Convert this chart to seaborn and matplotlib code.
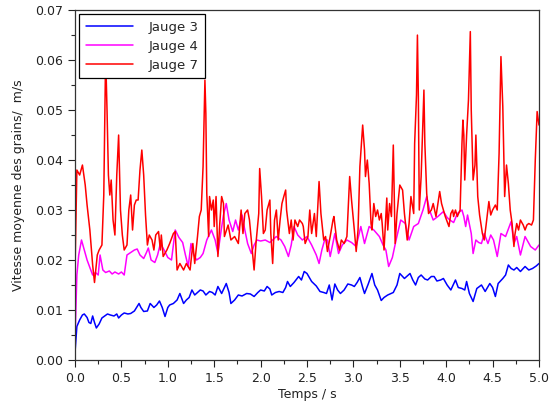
import numpy as np
import pandas as pd
import matplotlib
matplotlib.use("Agg")
import matplotlib.pyplot as plt
from matplotlib.ticker import MultipleLocator, FormatStrFormatter
import seaborn as sns

# --- data ---
t_j3 = [0.00, 0.01, 0.02, 0.05, 0.08, 0.10, 0.13, 0.15, 0.17, 0.19, 0.21, 0.23, 0.26, 0.29,
        0.32, 0.35, 0.38, 0.42, 0.45, 0.47, 0.50, 0.53, 0.57, 0.60, 0.64, 0.69, 0.71, 0.74,
        0.78, 0.81, 0.85, 0.88, 0.91, 0.94, 0.97, 1.00, 1.02, 1.06, 1.10, 1.13, 1.17, 1.20,
        1.23, 1.26, 1.29, 1.32, 1.35, 1.38, 1.41, 1.45, 1.48, 1.51, 1.54, 1.58, 1.61, 1.63,
        1.66, 1.68, 1.72, 1.76, 1.80, 1.85, 1.89, 1.93, 1.97, 2.00, 2.04, 2.07, 2.10, 2.12,
        2.16, 2.20, 2.24, 2.27, 2.29, 2.32, 2.36, 2.41, 2.44, 2.47, 2.50, 2.55, 2.60, 2.64,
        2.68, 2.71, 2.74, 2.77, 2.80, 2.83, 2.86, 2.90, 2.94, 2.98, 3.01, 3.04, 3.07, 3.10,
        3.12, 3.16, 3.20, 3.23, 3.26, 3.30, 3.33, 3.37, 3.43, 3.47, 3.50, 3.55, 3.58, 3.61,
        3.64, 3.67, 3.70, 3.73, 3.77, 3.80, 3.84, 3.87, 3.90, 3.94, 3.97, 4.01, 4.05, 4.10,
        4.13, 4.17, 4.20, 4.22, 4.25, 4.29, 4.33, 4.38, 4.42, 4.47, 4.50, 4.53, 4.56, 4.61,
        4.64, 4.67, 4.70, 4.73, 4.76, 4.80, 4.85, 4.89, 4.93, 4.97, 5.00]
v_j3 = [0.0015, 0.0040, 0.0067, 0.0080, 0.0090, 0.0092, 0.0085, 0.0075, 0.0073, 0.0088, 0.0075,
        0.0064, 0.0072, 0.0084, 0.0088, 0.0092, 0.0090, 0.0088, 0.0092, 0.0084, 0.0090, 0.0094,
        0.0092, 0.0093, 0.0098, 0.0113, 0.0105, 0.0097, 0.0098, 0.0113, 0.0105, 0.0110, 0.0118,
        0.0105, 0.0087, 0.0105, 0.0110, 0.0113, 0.0120, 0.0133, 0.0113, 0.0120, 0.0125, 0.0140,
        0.0130, 0.0135, 0.0140, 0.0138, 0.0130, 0.0137, 0.0135, 0.0130, 0.0147, 0.0133, 0.0145,
        0.0153, 0.0135, 0.0113, 0.0120, 0.0130, 0.0128, 0.0133, 0.0132, 0.0127, 0.0135, 0.0140,
        0.0138, 0.0147, 0.0142, 0.0130, 0.0135, 0.0137, 0.0135, 0.0145, 0.0157, 0.0147, 0.0155,
        0.0167, 0.0160, 0.0177, 0.0173, 0.0157, 0.0148, 0.0137, 0.0135, 0.0133, 0.0150, 0.0120,
        0.0152, 0.0140, 0.0133, 0.0140, 0.0152, 0.0150, 0.0147, 0.0155, 0.0165, 0.0145, 0.0133,
        0.0152, 0.0173, 0.0150, 0.0140, 0.0119, 0.0125, 0.0130, 0.0135, 0.0150, 0.0173, 0.0163,
        0.0168, 0.0173, 0.0160, 0.0150, 0.0165, 0.0170, 0.0162, 0.0160, 0.0167, 0.0167, 0.0158,
        0.0160, 0.0163, 0.0150, 0.0140, 0.0160, 0.0145, 0.0143, 0.0140, 0.0157, 0.0133, 0.0117,
        0.0143, 0.0150, 0.0137, 0.0153, 0.0145, 0.0127, 0.0153, 0.0163, 0.0170, 0.0190, 0.0183,
        0.0180, 0.0185, 0.0177, 0.0187, 0.0180, 0.0183, 0.0188, 0.0193]

t_j4 = [0.00, 0.02, 0.04, 0.07, 0.10, 0.13, 0.16, 0.19, 0.22, 0.25, 0.27, 0.30, 0.33, 0.37,
        0.40, 0.43, 0.47, 0.50, 0.53, 0.56, 0.60, 0.64, 0.67, 0.70, 0.74, 0.77, 0.79, 0.82,
        0.86, 0.89, 0.92, 0.96, 1.00, 1.04, 1.08, 1.12, 1.16, 1.19, 1.22, 1.25, 1.28, 1.31,
        1.35, 1.38, 1.42, 1.47, 1.51, 1.54, 1.57, 1.60, 1.63, 1.66, 1.70, 1.73, 1.76, 1.80,
        1.83, 1.86, 1.90, 1.93, 1.96, 2.00, 2.05, 2.10, 2.17, 2.22, 2.26, 2.30, 2.33, 2.36,
        2.40, 2.45, 2.50, 2.55, 2.60, 2.63, 2.66, 2.69, 2.72, 2.75, 2.80, 2.84, 2.88, 2.93,
        2.98, 3.03, 3.08, 3.12, 3.17, 3.22, 3.28, 3.32, 3.35, 3.38, 3.42, 3.46, 3.51, 3.56,
        3.60, 3.65, 3.70, 3.75, 3.79, 3.82, 3.86, 3.91, 3.97, 4.01, 4.04, 4.08, 4.12, 4.17,
        4.19, 4.21, 4.23, 4.27, 4.29, 4.32, 4.35, 4.38, 4.41, 4.45, 4.48, 4.51, 4.55, 4.59,
        4.64, 4.70, 4.73, 4.76, 4.80, 4.85, 4.91, 4.96, 5.00]
v_j4 = [0.0040, 0.0170, 0.0210, 0.0240, 0.0220, 0.0200, 0.0185, 0.0170, 0.0175, 0.0170, 0.0210,
        0.0180, 0.0175, 0.0178, 0.0172, 0.0176, 0.0172, 0.0176, 0.0170, 0.0210, 0.0215, 0.0220,
        0.0222, 0.0210, 0.0203, 0.0215, 0.0224, 0.0200, 0.0195, 0.0210, 0.0233, 0.0220, 0.0205,
        0.0200, 0.0260, 0.0245, 0.0235, 0.0210, 0.0187, 0.0233, 0.0210, 0.0200, 0.0205, 0.0213,
        0.0240, 0.0260, 0.0240, 0.0213, 0.0253, 0.0290, 0.0313, 0.0280, 0.0257, 0.0280, 0.0260,
        0.0290, 0.0260, 0.0233, 0.0213, 0.0230, 0.0240, 0.0238, 0.0240, 0.0235, 0.0247, 0.0240,
        0.0227, 0.0207, 0.0230, 0.0267, 0.0250, 0.0240, 0.0247, 0.0230, 0.0210, 0.0193, 0.0220,
        0.0240, 0.0240, 0.0207, 0.0253, 0.0213, 0.0230, 0.0240, 0.0235, 0.0227, 0.0267, 0.0233,
        0.0267, 0.0260, 0.0247, 0.0230, 0.0220, 0.0187, 0.0205, 0.0240, 0.0280, 0.0273, 0.0240,
        0.0267, 0.0273, 0.0300, 0.0327, 0.0300, 0.0280, 0.0287, 0.0297, 0.0285, 0.0280, 0.0275,
        0.0293, 0.0300, 0.0287, 0.0267, 0.0290, 0.0253, 0.0213, 0.0240, 0.0235, 0.0233, 0.0253,
        0.0233, 0.0250, 0.0240, 0.0207, 0.0253, 0.0247, 0.0277, 0.0233, 0.0247, 0.0210, 0.0247,
        0.0227, 0.0220, 0.0230]

t_j7 = [0.00, 0.02, 0.05, 0.08, 0.11, 0.13, 0.16, 0.19, 0.21, 0.24, 0.26, 0.29, 0.31, 0.33,
        0.345, 0.36, 0.375, 0.39, 0.41, 0.43, 0.45, 0.47, 0.49, 0.51, 0.53, 0.56, 0.58, 0.60,
        0.62, 0.64, 0.66, 0.68, 0.70, 0.72, 0.74, 0.76, 0.78, 0.80, 0.83, 0.85, 0.87, 0.90,
        0.92, 0.93, 0.95, 0.99, 1.02, 1.06, 1.08, 1.10, 1.13, 1.17, 1.20, 1.24, 1.27, 1.29,
        1.32, 1.34, 1.36, 1.38, 1.40, 1.41, 1.42, 1.44, 1.45, 1.47, 1.49, 1.50, 1.52, 1.54,
        1.56, 1.58, 1.60, 1.61, 1.65, 1.68, 1.72, 1.76, 1.79, 1.81, 1.83, 1.86, 1.88, 1.90,
        1.93, 1.95, 1.98, 1.99, 2.01, 2.03, 2.05, 2.07, 2.10, 2.11, 2.13, 2.15, 2.17, 2.19,
        2.21, 2.23, 2.25, 2.27, 2.28, 2.31, 2.33, 2.35, 2.37, 2.40, 2.42, 2.45, 2.46, 2.48,
        2.51, 2.53, 2.55, 2.58, 2.60, 2.63, 2.65, 2.68, 2.70, 2.72, 2.75, 2.78, 2.79, 2.82,
        2.85, 2.87, 2.90, 2.93, 2.95, 2.96, 2.98, 3.01, 3.03, 3.05, 3.07, 3.10, 3.12, 3.13,
        3.15, 3.17, 3.19, 3.20, 3.22, 3.24, 3.26, 3.28, 3.30, 3.31, 3.33, 3.36, 3.37, 3.39,
        3.41, 3.43, 3.44, 3.45, 3.47, 3.50, 3.53, 3.55, 3.58, 3.60, 3.62, 3.65, 3.66, 3.68,
        3.69, 3.70, 3.71, 3.73, 3.76, 3.77, 3.79, 3.81, 3.84, 3.86, 3.89, 3.93, 3.95, 3.99,
        4.03, 4.05, 4.07, 4.08, 4.10, 4.12, 4.15, 4.17, 4.18, 4.19, 4.20, 4.22, 4.24, 4.26,
        4.27, 4.29, 4.31, 4.32, 4.34, 4.36, 4.39, 4.41, 4.43, 4.46, 4.48, 4.50, 4.53, 4.55,
        4.57, 4.59, 4.61, 4.63, 4.65, 4.67, 4.69, 4.71, 4.73, 4.74, 4.76, 4.78, 4.80, 4.83,
        4.85, 4.87, 4.89, 4.92, 4.94, 4.96, 4.98, 5.00]
v_j7 = [0.0180, 0.0380, 0.0370, 0.0390, 0.0350, 0.0310, 0.0260, 0.0190, 0.0155, 0.0210, 0.0220,
        0.0230, 0.0330, 0.0610, 0.0500, 0.0370, 0.0330, 0.0360, 0.0280, 0.0250, 0.0370, 0.0450,
        0.0300, 0.0250, 0.0220, 0.0230, 0.0300, 0.0330, 0.0260, 0.0310, 0.0320, 0.0320, 0.0380,
        0.0420, 0.0370, 0.0290, 0.0230, 0.0250, 0.0240, 0.0220, 0.0250, 0.0257, 0.0220, 0.0250,
        0.0207, 0.0220, 0.0233, 0.0253, 0.0257, 0.0180, 0.0193, 0.0180, 0.0193, 0.0180, 0.0233,
        0.0193, 0.0247, 0.0287, 0.0300, 0.0387, 0.0560, 0.0493, 0.0333, 0.0247, 0.0327, 0.0300,
        0.0320, 0.0267, 0.0327, 0.0207, 0.0273, 0.0327, 0.0313, 0.0247, 0.0270, 0.0240, 0.0247,
        0.0233, 0.0300, 0.0253, 0.0293, 0.0300, 0.0280, 0.0240, 0.0180, 0.0233, 0.0293, 0.0383,
        0.0327, 0.0253, 0.0260, 0.0300, 0.0320, 0.0253, 0.0193, 0.0280, 0.0300, 0.0240, 0.0280,
        0.0313, 0.0327, 0.0340, 0.0300, 0.0253, 0.0280, 0.0240, 0.0280, 0.0267, 0.0280, 0.0273,
        0.0267, 0.0233, 0.0247, 0.0300, 0.0253, 0.0293, 0.0247, 0.0357, 0.0293, 0.0240, 0.0247,
        0.0217, 0.0247, 0.0280, 0.0287, 0.0240, 0.0220, 0.0240, 0.0233, 0.0247, 0.0327, 0.0367,
        0.0320, 0.0260, 0.0217, 0.0260, 0.0387, 0.0470, 0.0420, 0.0367, 0.0400, 0.0353, 0.0273,
        0.0260, 0.0313, 0.0287, 0.0300, 0.0280, 0.0293, 0.0273, 0.0220, 0.0324, 0.0260, 0.0313,
        0.0287, 0.0430, 0.0327, 0.0233, 0.0293, 0.0350, 0.0340, 0.0293, 0.0240, 0.0273, 0.0327,
        0.0293, 0.0433, 0.0530, 0.0650, 0.0527, 0.0300, 0.0367, 0.0540, 0.0433, 0.0333, 0.0293,
        0.0300, 0.0313, 0.0287, 0.0337, 0.0313, 0.0287, 0.0267, 0.0293, 0.0300, 0.0287, 0.0300,
        0.0287, 0.0300, 0.0433, 0.0480, 0.0450, 0.0360, 0.0450, 0.0520, 0.0657, 0.0500, 0.0360,
        0.0390, 0.0450, 0.0327, 0.0290, 0.0253, 0.0240, 0.0270, 0.0317, 0.0290, 0.0300, 0.0310,
        0.0300, 0.0413, 0.0607, 0.0507, 0.0327, 0.0390, 0.0353, 0.0300, 0.0273, 0.0227, 0.0250,
        0.0273, 0.0260, 0.0280, 0.0270, 0.0260, 0.0270, 0.0273, 0.0270, 0.0280, 0.0400, 0.0497,
        0.0470]

series = [("Jauge 3", t_j3, v_j3, "#0000ff"),
          ("Jauge 4", t_j4, v_j4, "#ff00ff"),
          ("Jauge 7", t_j7, v_j7, "#ff0000")]

sns.set_style("ticks")
plt.rcParams['font.family'] = ['DejaVu Sans']

fig = plt.figure(figsize=(5.54, 4.04), dpi=100)
ax = fig.add_axes([0.1354, 0.109, 0.8375, 0.866])

for name, t, v, col in series:
    df = pd.DataFrame({"t": t, "v": v})
    sns.lineplot(data=df, x="t", y="v", color=col, lw=1.1, label=name, ax=ax)

ax.set_xlim(0, 5)
ax.set_ylim(0, 0.07)
ax.xaxis.set_major_locator(MultipleLocator(0.5))
ax.xaxis.set_minor_locator(MultipleLocator(0.25))
ax.yaxis.set_major_locator(MultipleLocator(0.01))
ax.yaxis.set_minor_locator(MultipleLocator(0.005))
ax.xaxis.set_major_formatter(FormatStrFormatter("%.1f"))
ax.yaxis.set_major_formatter(FormatStrFormatter("%.2f"))
ax.tick_params(which="major", direction="out", length=5, width=0.8, labelsize=9, colors="#222222")
ax.tick_params(which="minor", direction="out", length=3, width=0.8)
for s in ax.spines.values():
    s.set_visible(True)
    s.set_color("#333333")
    s.set_linewidth(0.9)

ax.set_xlabel("Temps / s", fontsize=9, color="#222222", labelpad=2)
ax.set_ylabel("Vitesse moyenne des grains/  m/s", fontsize=9, color="#222222", labelpad=7)

leg = ax.legend(loc="upper left", fontsize=9.5, frameon=True, fancybox=False,
                handlelength=3.6, handletextpad=1.2, borderpad=0.5, labelspacing=0.45,
                borderaxespad=0.3)
leg.get_frame().set_edgecolor("black")
leg.get_frame().set_linewidth(0.9)
leg.get_frame().set_alpha(1)

fig.savefig("out.png", dpi=100)
